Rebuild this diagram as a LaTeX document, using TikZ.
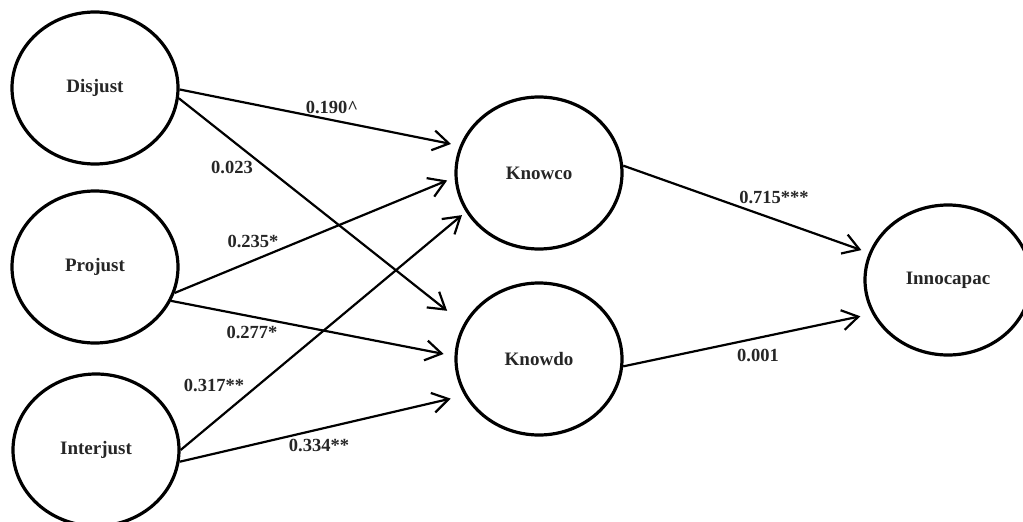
\documentclass[tikz,border=0pt]{standalone}
\usepackage{fontspec}
\setmainfont{Liberation Serif}
\usetikzlibrary{arrows.meta,shapes.geometric}
\begin{document}
\begin{tikzpicture}[x=1pt,y=-1pt,
  latent/.style={draw,ellipse,line width=3.2pt,minimum width=166pt,minimum height=152pt,inner sep=0pt,
    font=\bfseries\fontsize{19}{20}\selectfont,text=black!85},
  pathline/.style={line width=2.2pt,-{Straight Barb[length=16pt,width=20pt]}},
  lab/.style={font=\bfseries\fontsize{18.5}{20}\selectfont,text=black!85,inner sep=0pt}]
\useasboundingbox (0,0) rectangle (1023,522);
\node[latent] (dis) at (95,88) {Disjust};
\node[latent] (pro) at (95,267) {Projust};
\node[latent] (int) at (96,450) {Interjust};
\node[latent] (kc) at (539,173) {Knowco};
\node[latent] (kd) at (539,359) {Knowdo};
\node[latent,minimum height=150pt] (inn) at (948,280) {Innocapac};

\draw[pathline,shorten >=9pt] (dis.-1) -- (kc.161);
\draw[pathline,shorten >=21pt] (dis.-7) -- (kd.155);
\draw[pathline,shorten >=8pt] (pro.-18) -- (kc.183);
\draw[pathline,shorten >=11pt] (pro.-24) -- (kd.178);
\draw[pathline,shorten >=5pt] (int.0) -- (kc.208);
\draw[pathline,shorten >=14pt] (int.-8) -- (kd.206);
\draw[pathline,shorten >=8pt] (kc.5) -- (inn.161);
\draw[pathline,shorten >=12pt] (kd.-5) -- (inn.204);

\node[lab] (l1) at (332,107) {0.190\textasciicircum};
\node[lab] (l2) at (232,167) {0.023};
\node[lab] (l3) at (253,241) {0.235*};
\node[lab] (l4) at (252,332) {0.277*};
\node[lab] (l5) at (214,385) {0.317**};
\node[lab] (l6) at (319,445) {0.334**};
\node[lab] (l7) at (774,197) {0.715***};
\node[lab] (l8) at (758,355) {0.001};
\end{tikzpicture}
\end{document}
